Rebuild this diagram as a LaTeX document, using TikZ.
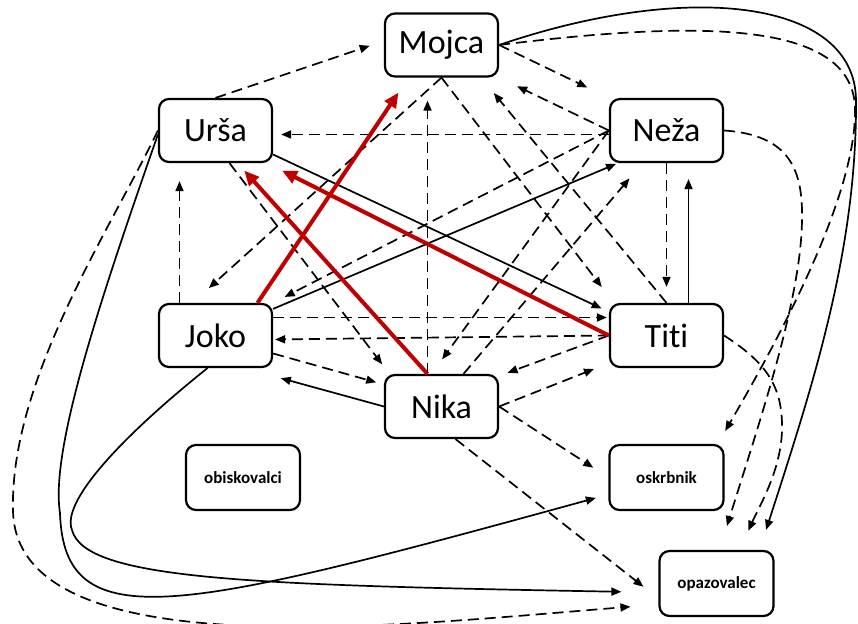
\documentclass[tikz,border=0pt]{standalone}
\usepackage{fontspec}
\setmainfont{Carlito}[Ligatures=NoCommon]
\usetikzlibrary{arrows.meta}
\definecolor{ink}{HTML}{000000}
\definecolor{hotRed}{HTML}{C00000}
\tikzset{>={Triangle[length=5pt,width=4pt]},
  person/.style={draw=ink,line width=1.1pt,rounded corners=5pt,minimum width=56.5pt,
    minimum height=31.5pt,inner sep=0pt,text=ink,font=\fontsize{17}{20}\selectfont},
  role/.style={person,minimum width=57pt,minimum height=32.5pt,font=\fontsize{8.5}{10}\selectfont\bfseries},
  sol/.style={->,ink,line width=0.85pt},
  dsh/.style={->,ink,line width=0.85pt,dash pattern=on 5.5pt off 3pt},
  hot/.style={-{Triangle[length=7.5pt,width=6.5pt]},hotRed,line width=2pt}}
\begin{document}
\begin{tikzpicture}[x=0.5pt,y=-0.5pt]
\useasboundingbox (0,0) rectangle (858,624);
\node[person] (mojca) at (441.5,45) {Mojca};
\node[person] (ursa) at (215.5,130.5) {Urša};
\node[person] (neza) at (666.5,130.5) {Neža};
\node[person] (joko) at (215.5,335.5) {Joko};
\node[person] (titi) at (666.5,335.5) {Titi};
\node[person] (nika) at (441.5,406.5) {Nika};
\node[role] (obisk) at (243,477.5) {obiskovalci};
\node[role] (oskrb) at (666.5,477.5) {oskrbnik};
\node[role] (opaz) at (716.5,583.5) {opazovalec};
\draw[dsh,shorten >=7.5pt] (ursa.north) -- ([yshift=2pt]mojca.west);
\draw[dsh,shorten >=11pt] (mojca.south) -- ([xshift=-11.5pt]joko.north);
\draw[dsh,shorten >=10pt] (mojca.south) -- ([xshift=2.5pt]titi.north west);
\draw[dsh,shorten >=12pt] (mojca.east) -- (neza.north west);
\draw[dsh,shorten >=10pt] (neza.west) -- (mojca.south east);
\draw[dsh,shorten >=10pt] (titi.north) -- ([xshift=-9pt]mojca.south east);
\draw[dsh,shorten >=11.5pt] ([xshift=-7pt]nika.north) -- ([xshift=-7pt]mojca.south);
\draw[dsh,shorten >=4pt] ([yshift=-2pt]neza.west) -- ([yshift=-2pt]ursa.east);
\draw[dsh,shorten >=6.5pt] (neza.west) -- (joko.north east);
\draw[dsh,shorten >=9pt] (neza.west) -- ([xshift=-5pt]nika.north);
\draw[dsh,shorten >=10pt] ([xshift=11pt]nika.north) -- ([xshift=-12pt]neza.south);
\draw[dsh,shorten >=8pt] (neza.south) -- (titi.north);
\draw[dsh,shorten >=9pt] ([xshift=-18pt]joko.north) -- ([xshift=-18pt]ursa.south);
\draw[dsh,shorten >=6pt] ([xshift=7pt]ursa.south) -- ([xshift=2.75pt]nika.north west);
\draw[dsh,shorten >=1pt] ([yshift=9pt]joko.east) -- ([yshift=9pt]titi.west);
\draw[dsh,shorten >=1pt] (titi.west) -- ([yshift=-2pt]joko.east);
\draw[dsh,shorten >=4pt] ([yshift=-9pt]joko.east) -- ([yshift=11pt]nika.west);
\draw[dsh,shorten >=4.5pt] (titi.west) -- ([yshift=-1pt]nika.north east);
\draw[dsh,shorten >=8pt] (nika.east) -- ([yshift=2.5pt]titi.south west);
\draw[dsh,shorten >=9pt] (nika.east) -- (oskrb.west);
\draw[dsh,shorten >=9.5pt] ([xshift=7pt]nika.south) -- ([yshift=-7.5pt]opaz.west);
\draw[sol,shorten >=4pt] ([yshift=-12pt]ursa.east) -- ([yshift=-4.5pt]titi.north west);
\draw[sol,shorten >=1pt] ([yshift=-3pt]joko.north east) -- ([xshift=4.5pt]neza.south west);
\draw[sol,shorten >=8pt] ([xshift=11pt]titi.north) -- ([xshift=11pt]neza.south);
\draw[sol,shorten >=4pt] (nika.west) -- ([yshift=-4pt]joko.south east);
\draw[sol,shorten >=10.5pt] (mojca.east) .. controls (690,-20) and (855,0) .. (856,100)
  .. controls (857,250) and (813,385) .. ([xshift=-7.5pt]opaz.north east);
\draw[dsh,shorten >=7.5pt] (mojca.east) .. controls (700,20) and (855,20) .. (855,110)
  .. controls (856,190) and (790,320) .. ([xshift=-3.5pt]oskrb.north east);
\draw[dsh,shorten >=12.5pt] (neza.east) .. controls (790,135) and (803,170) .. (802,220)
  .. controls (801,300) and (760,420) .. ([xshift=1.5pt]opaz.north);
\draw[dsh,shorten >=10.5pt] (titi.east) .. controls (765,362) and (783,385) .. (782,430)
  .. controls (781,470) and (760,505) .. ([xshift=11.5pt]opaz.north);
\draw[dsh,shorten >=14pt] (ursa.west) .. controls (110,230) and (10,380) .. (13,510)
  .. controls (15,670) and (400,625) .. ([yshift=-10.5pt]opaz.west);
\draw[sol,shorten >=6.5pt] ([yshift=-2pt]ursa.west) .. controls (100,300) and (50,450) .. (60,513)
  .. controls (64,640) and (180,612) .. ([yshift=-8.5pt]oskrb.west);
\draw[sol,shorten >=18.5pt] ([xshift=-4pt]joko.south) .. controls (130,430) and (60,500) .. (72,530)
  .. controls (85,580) and (250,585) .. ([yshift=-4.5pt]opaz.west);
\draw[hot,shorten >=9pt] ([xshift=21pt]joko.north) -- ([xshift=-16.5pt]mojca.south);
\draw[hot,shorten >=5pt] ([xshift=-7pt]nika.north) -- ([xshift=11pt]ursa.south);
\draw[hot,shorten >=5pt] (titi.west) -- ([yshift=-1.5pt]ursa.south east);
\end{tikzpicture}
\end{document}
